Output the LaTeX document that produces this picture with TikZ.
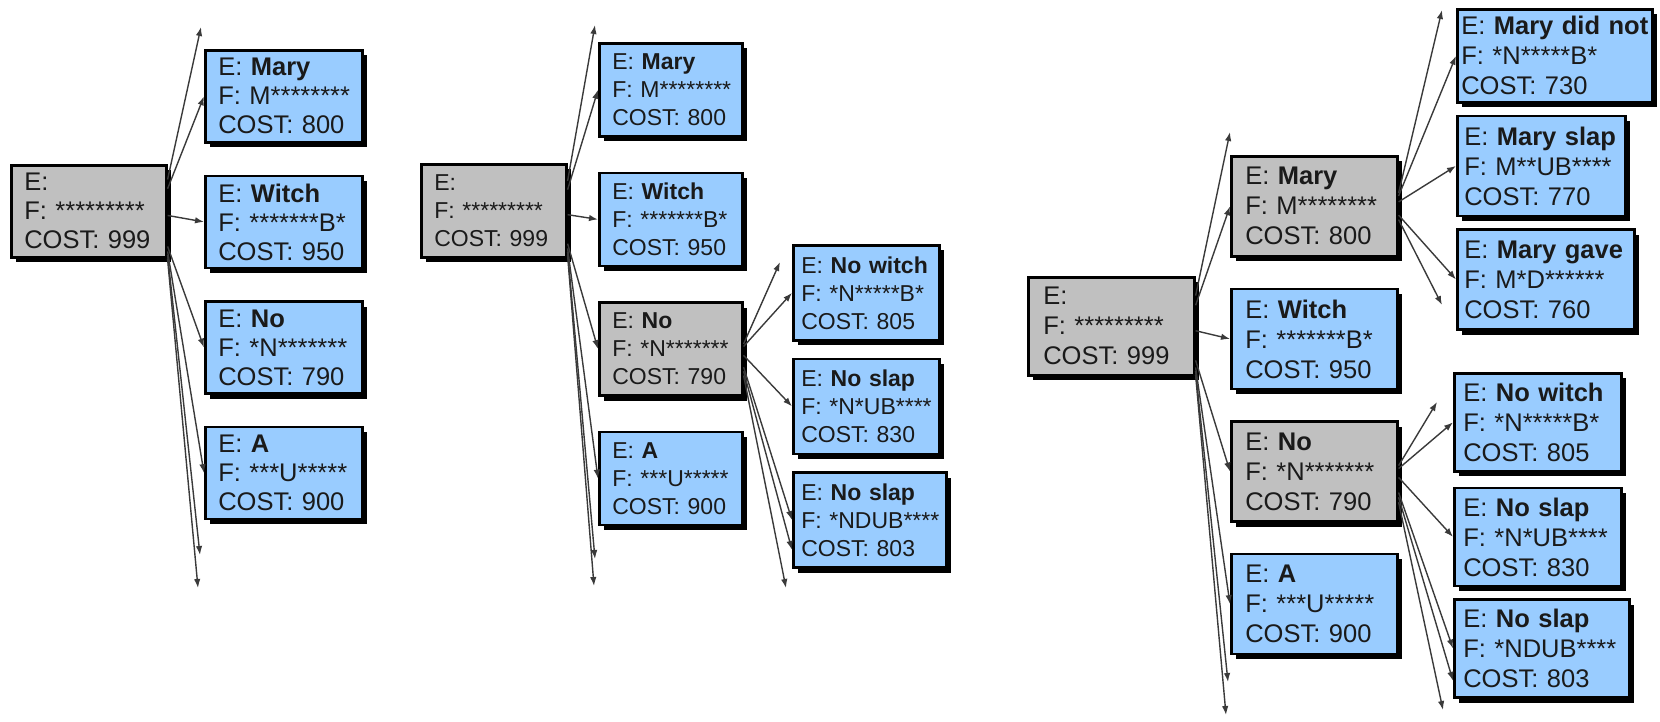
\documentclass[tikz,border=0pt]{standalone}
\usepackage{fontspec}
\setmainfont{Liberation Sans}
\usetikzlibrary{arrows.meta,positioning,shadows}
\definecolor{hypblue}{HTML}{99CCFF}
\definecolor{hypgray}{HTML}{C0C0C0}
\definecolor{hyptext}{HTML}{1A1A1A}
\definecolor{arrowgray}{HTML}{3A3A3A}
\newcommand{\hyptext}[3]{\mbox{E: \textbf{#1}}\\\mbox{F: #2}\\\mbox{COST: #3}}

\begin{document}
\begin{tikzpicture}[
  x=1pt, y=-1pt,
  hyp/.style={draw, line width=2.6pt, fill=hypblue, anchor=north west, align=left,
    inner xsep=13pt, inner ysep=0pt, text=hyptext,
    drop shadow={shadow xshift=5pt, shadow yshift=-5pt, fill=black, opacity=1}},
  hypg/.style={hyp, fill=hypgray},
  arr/.style={-{Latex[length=9pt,width=6.5pt]}, line width=1.4pt, draw=arrowgray}
]
\useasboundingbox (0,0) rectangle (1660,721);

% first expansion
\begin{scope}[hyp/.append style={font=\fontsize{25.5}{29}\selectfont, minimum height=92pt}]
\node[hypg, text width=129pt] (r1) at (10,164) {\hyptext{}{*********}{999}};
\node[hyp, text width=131pt] (m1) at (204,49) {\hyptext{Mary}{M********}{800}};
\node[hyp, text width=131pt, below=31pt of m1.south west, anchor=north west] (w1) {\hyptext{Witch}{*******B*}{950}};
\node[hyp, text width=131pt, below=31pt of w1.south west, anchor=north west] (n1) {\hyptext{No}{*N*******}{790}};
\node[hyp, text width=131pt, below=31pt of n1.south west, anchor=north west] (a1) {\hyptext{A}{***U*****}{900}};
\coordinate (u1) at (201,27);
\coordinate (d1a) at (200,555);
\coordinate (d1b) at (198,588);
\foreach \s/\t in {22/u1, 16/m1.west, -3/w1.west, -24/n1.west, -27/a1.west, -29/d1a, -31/d1b}
  \draw[arr] (r1.\s) -- (\t);
\end{scope}

% second expansion
\begin{scope}[hyp/.append style={font=\fontsize{23}{28}\selectfont, minimum height=93pt}]
\node[hypg, text width=119pt] (r2) at (420,163) {\hyptext{}{*********}{999}};
\node[hyp, text width=117pt] (m2) at (598,42) {\hyptext{Mary}{M********}{800}};
\node[hyp, text width=117pt, below=34pt of m2.south west, anchor=north west] (w2) {\hyptext{Witch}{*******B*}{950}};
\node[hypg, text width=117pt, below=34pt of w2.south west, anchor=north west] (n2) {\hyptext{No}{*N*******}{790}};
\node[hyp, text width=117pt, below=34pt of n2.south west, anchor=north west] (a2) {\hyptext{A}{***U*****}{900}};
\node[hyp, inner xsep=8pt, text width=130pt, minimum height=95pt] (nw2) at (792,244) {\hyptext{No witch}{*N*****B*}{805}};
\node[hyp, inner xsep=8pt, text width=130pt, minimum height=95pt, below=16pt of nw2.south west, anchor=north west] (ns2a) {\hyptext{No slap}{*N*UB****}{830}};
\node[hyp, inner xsep=8pt, text width=137pt, minimum height=95pt, below=16pt of ns2a.south west, anchor=north west] (ns2b) {\hyptext{No slap}{*NDUB****}{803}};
\coordinate (u2) at (595,25);
\coordinate (d2a) at (595,559);
\coordinate (d2b) at (594,586);
\coordinate (u2g) at (780,262);
\coordinate (d2g) at (786,588);
\foreach \s/\t in {22/u2, 16/m2.west, -3/w2.west, -24/n2.west, -27/a2.west, -29/d2a, -31/d2b}
  \draw[arr] (r2.\s) -- (\t);
\foreach \s/\t in {4/u2g, 2/nw2.west, -5/ns2a.west, -14/ns2b.west, -17/ns2b.201, -20/d2g}
  \draw[arr] (n2.\s) -- (\t);
\end{scope}

% third expansion
\begin{scope}[hyp/.append style={font=\fontsize{25.5}{30}\selectfont, minimum height=100pt}]
\node[hypg, inner xsep=15pt, text width=136pt, minimum height=98pt] (r3) at (1027,276) {\hyptext{}{*********}{999}};
\node[hypg, inner xsep=14pt, text width=138pt] (m3) at (1230,155) {\hyptext{Mary}{M********}{800}};
\node[hyp, inner xsep=14pt, text width=138pt, below=30pt of m3.south west, anchor=north west] (w3) {\hyptext{Witch}{*******B*}{950}};
\node[hypg, inner xsep=14pt, text width=138pt, below=30pt of w3.south west, anchor=north west] (n3) {\hyptext{No}{*N*******}{790}};
\node[hyp, inner xsep=14pt, text width=138pt, below=30pt of n3.south west, anchor=north west] (a3) {\hyptext{A}{***U*****}{900}};
\node[hyp, inner xsep=4pt, text width=187pt, minimum height=93pt] (mdn) at (1456,8) {\hyptext{Mary did not}{*N*****B*}{730}};
\node[hyp, inner xsep=7pt, text width=154pt, below=11pt of mdn.south west, anchor=north west] (ms) {\hyptext{Mary slap}{M**UB****}{770}};
\node[hyp, inner xsep=7pt, text width=163pt, below=11pt of ms.south west, anchor=north west] (mg) {\hyptext{Mary gave}{M*D******}{760}};
\node[hyp, inner xsep=9pt, text width=149pt, minimum height=98pt] (nw3) at (1453,372) {\hyptext{No witch}{*N*****B*}{805}};
\node[hyp, inner xsep=9pt, text width=149pt, minimum height=98pt, below=14pt of nw3.south west, anchor=north west] (ns3a) {\hyptext{No slap}{*N*UB****}{830}};
\node[hyp, inner xsep=9pt, text width=157pt, minimum height=98pt, below=11pt of ns3a.south west, anchor=north west] (ns3b) {\hyptext{No slap}{*NDUB****}{803}};
\coordinate (u3) at (1230,132);
\coordinate (d3a) at (1228,682);
\coordinate (d3b) at (1226,715);
\coordinate (um) at (1442,10);
\coordinate (dm) at (1442,305);
\coordinate (un) at (1437,402);
\coordinate (dn) at (1443,710);
\foreach \s/\t in {20/u3, 14/m3.west, -3/w3.west, -22/n3.west, -26/a3.west, -28/d3a, -30/d3b}
  \draw[arr] (r3.\s) -- (\t);
\foreach \s/\t in {9/um, 7/mdn.west, 3/ms.west, -6/mg.west, -9/dm}
  \draw[arr] (m3.\s) -- (\t);
\foreach \s/\t in {4/un, 2/nw3.west, -4/ns3a.west, -14/ns3b.west, -17/ns3b.200, -20/dn}
  \draw[arr] (n3.\s) -- (\t);
\end{scope}
\end{tikzpicture}
\end{document}
